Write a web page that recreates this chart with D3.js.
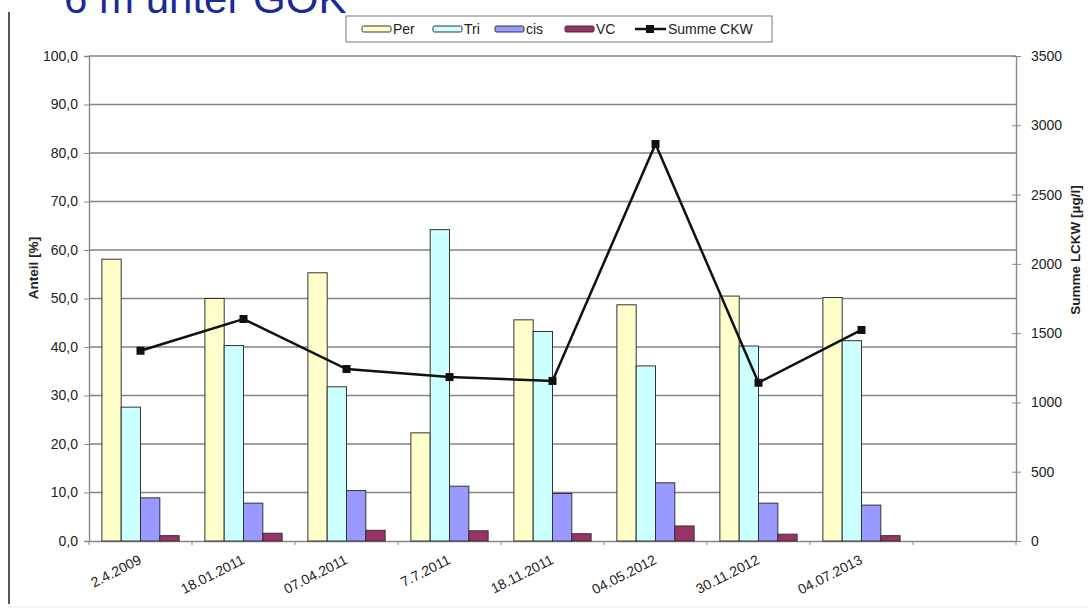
<!DOCTYPE html>
<html><head><meta charset="utf-8">
<script src="https://cdn.jsdelivr.net/npm/d3@7"></script>
<style>body{margin:0;background:#fff;}svg{display:block;font-family:Arial,"Liberation Sans",sans-serif;}</style>
</head><body><svg id="c" width="1088" height="611"></svg>
<script>
const categories = ["2.4.2009","18.01.2011","07.04.2011","7.7.2011","18.11.2011","04.05.2012","30.11.2012","04.07.2013",""];
const seriesNames = ["Per","Tri","cis","VC"];
const perValues = [58.1,50.0,55.3,22.3,45.6,48.7,50.5,50.2];
const triValues = [27.6,40.3,31.8,64.2,43.2,36.1,40.2,41.3];
const cisValues = [8.9,7.8,10.4,11.3,9.8,12.0,7.8,7.4];
const vcValues = [1.1,1.6,2.2,2.1,1.5,3.1,1.4,1.1];
const summeValues = [1373,1602,1241,1183,1155,2865,1142,1523];
const leftTicks = [0,10,20,30,40,50,60,70,80,90,100];
const rightTicks = [0,500,1000,1500,2000,2500,3000,3500];
const colors = {Per:"#FFFFCC",Tri:"#CCFFFF",cis:"#9999FF",VC:"#993366"};

const FS = 14;
const svg = d3.select("#c");
const L=89, R=1016, T=56, B=541;
const x = d3.scaleBand().domain(categories.map((d,i)=>i)).range([L,R]).paddingInner(0).paddingOuter(0);
const yL = d3.scaleLinear().domain([0,100]).range([B,T]);
const yR = d3.scaleLinear().domain([0,3500]).range([B,T]);
const sub = d3.scaleBand().domain(seriesNames).range([x.bandwidth()*0.125, x.bandwidth()*0.875]);

// frame bits
svg.append("line").attr("x1",9).attr("x2",9).attr("y1",12).attr("y2",604).attr("stroke","#555").attr("stroke-width",2);
svg.append("line").attr("x1",9).attr("x2",1088).attr("y1",607).attr("y2",607).attr("stroke","#eee").attr("stroke-width",1);
// title (cut at top edge as in the original)
svg.append("text").attr("x",64).attr("y",13).attr("font-size",42).attr("fill","#1a2a96").text("6 m unter GOK");

// gridlines
svg.append("g").selectAll("line").data(leftTicks.filter(d=>d>0)).join("line")
  .attr("x1",L).attr("x2",R).attr("y1",d=>yL(d)).attr("y2",d=>yL(d))
  .attr("stroke","#858585").attr("stroke-width",1.4);

// left axis
const fmt = d=>d3.format(".1f")(d).replace(".",",");
const gl = svg.append("g").attr("transform",`translate(${L},0)`)
  .call(d3.axisLeft(yL).tickValues(leftTicks).tickFormat(fmt).tickSize(5).tickPadding(6));
gl.select(".domain").attr("stroke","#888").attr("stroke-width",1.4);
gl.selectAll(".tick line").attr("stroke","#888");
gl.selectAll("text").attr("font-size",FS).attr("fill","#222").attr("font-family","Arial, Liberation Sans, sans-serif");

// right axis
const gr = svg.append("g").attr("transform",`translate(${R},0)`)
  .call(d3.axisRight(yR).tickValues(rightTicks).tickFormat(d3.format("d")).tickSizeInner(5).tickSizeOuter(0).tickPadding(10));
gr.select(".domain").attr("stroke","#888").attr("stroke-width",1.4);
gr.selectAll(".tick line").attr("stroke","#888").attr("x1",-4);
gr.selectAll("text").attr("font-size",FS).attr("fill","#222").attr("font-family","Arial, Liberation Sans, sans-serif");

// x axis
const gx = svg.append("g").attr("transform",`translate(0,${B})`)
  .call(d3.axisBottom(x).tickValues([]).tickSizeOuter(0));
gx.select(".domain").attr("stroke","#888").attr("stroke-width",1.4);
svg.append("g").selectAll("line").data(d3.range(categories.length+1)).join("line")
  .attr("x1",i=>i<categories.length?x(i):R).attr("x2",i=>i<categories.length?x(i):R)
  .attr("y1",B).attr("y2",B+4).attr("stroke","#888");

// bars
const data = categories.slice(0,8).map((c,i)=>({i, vals:{Per:perValues[i],Tri:triValues[i],cis:cisValues[i],VC:vcValues[i]}}));
const grp = svg.append("g").selectAll("g").data(data).join("g").attr("transform",d=>`translate(${x(d.i)},0)`);
grp.selectAll("rect").data(d=>seriesNames.map(s=>({s,v:d.vals[s]}))).join("rect")
  .attr("x",d=>sub(d.s)).attr("width",sub.bandwidth())
  .attr("y",d=>yL(d.v)).attr("height",d=>B-yL(d.v))
  .attr("fill",d=>colors[d.s]).attr("stroke","#333").attr("stroke-width",1);

// line
const cx = i=>x(i)+x.bandwidth()/2;
svg.append("path").datum(summeValues).attr("fill","none").attr("stroke","#111").attr("stroke-width",2.5)
  .attr("d",d3.line().x((d,i)=>cx(i)).y(d=>yR(d)));
svg.append("g").selectAll("rect").data(summeValues).join("rect")
  .attr("x",(d,i)=>cx(i)-4).attr("y",d=>yR(d)-4).attr("width",8).attr("height",8).attr("fill","#111");

// x labels
svg.append("g").selectAll("text").data(categories.slice(0,8)).join("text")
  .attr("transform",(d,i)=>`translate(${cx(i)+2},${B+22}) rotate(-27)`)
  .attr("text-anchor","end").attr("font-size",FS).attr("fill","#222").text(d=>d);

// axis titles
svg.append("text").attr("transform","translate(38,268) rotate(-90)").attr("text-anchor","middle")
  .attr("font-size",13.5).attr("font-weight","bold").attr("fill","#222").text("Anteil [%]");
svg.append("text").attr("transform","translate(1080,250) rotate(-90)").attr("text-anchor","middle")
  .attr("font-size",13.5).attr("font-weight","bold").attr("fill","#222").text("Summe LCKW [µg/l]");

// legend
const lg = svg.append("g");
lg.append("rect").attr("x",346).attr("y",16).attr("width",426).attr("height",26).attr("fill","#fff").attr("stroke","#777");
const legItems = [{n:"Per",x:362},{n:"Tri",x:433},{n:"cis",x:495},{n:"VC",x:565}];
legItems.forEach(it=>{
  lg.append("rect").attr("x",it.x).attr("y",26).attr("width",29).attr("height",6).attr("rx",1.5)
    .attr("fill",colors[it.n]).attr("stroke","#333");
  lg.append("text").attr("x",it.x+31).attr("y",34).attr("font-size",FS).attr("fill","#222").text(it.n);
});
lg.append("line").attr("x1",635).attr("x2",666).attr("y1",29).attr("y2",29).attr("stroke","#111").attr("stroke-width",2.5);
lg.append("rect").attr("x",646).attr("y",25).attr("width",8).attr("height",8).attr("fill","#111");
lg.append("text").attr("x",668).attr("y",34).attr("font-size",FS).attr("fill","#222").text("Summe CKW");
</script></body></html>
